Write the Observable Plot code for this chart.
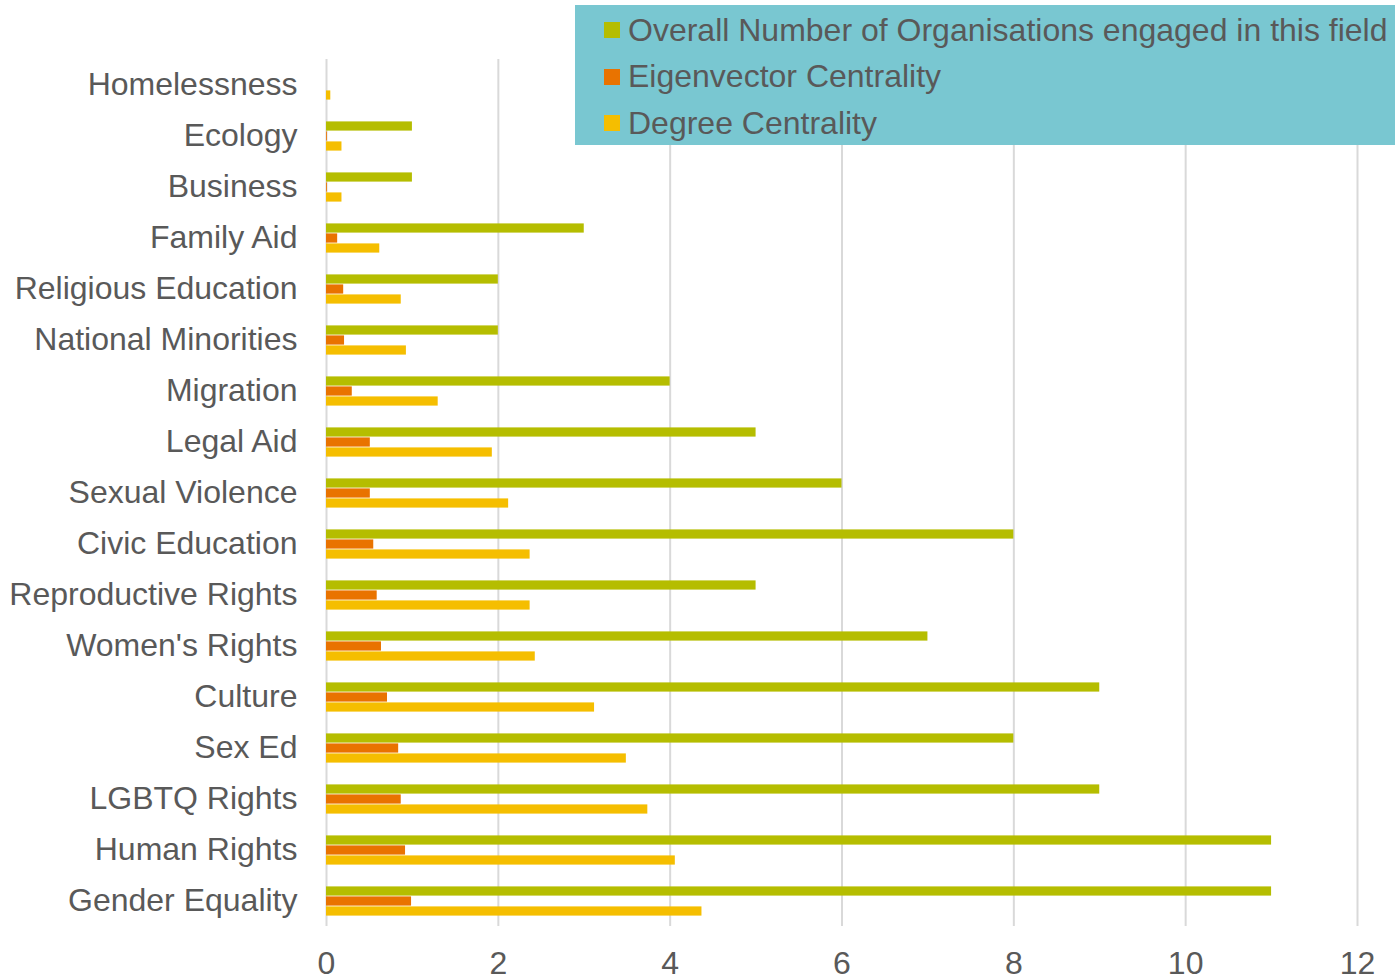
<!DOCTYPE html>
<html>
<head>
<meta charset="utf-8">
<script src="https://cdn.jsdelivr.net/npm/d3@7"></script>
<script src="https://cdn.jsdelivr.net/npm/@observablehq/plot@0.6"></script>
<style>
  html, body { margin: 0; padding: 0; background: #fff; }
  #wrap { position: relative; width: 1395px; height: 980px; font-family: "Liberation Sans", Arial, sans-serif; }
  #legend { position: absolute; left: 575px; top: 5px; width: 820px; height: 140px; background: #79c7d1; box-sizing: border-box; padding-top: 2px; padding-left: 29px; }
  .item { display: flex; align-items: center; height: 46.5px; font-size: 32px; color: #595959; white-space: nowrap; }
  .sw { width: 16px; height: 16px; margin-right: 8px; flex: none; }
  svg { position: absolute; left: 0; top: 0; }
</style>
</head>
<body>
<div id="wrap"><div id="legend"></div></div>
<script>
const categories = ["Homelessness", "Ecology", "Business", "Family Aid", "Religious Education",
  "National Minorities", "Migration", "Legal Aid", "Sexual Violence", "Civic Education",
  "Reproductive Rights", "Women's Rights", "Culture", "Sex Ed", "LGBTQ Rights",
  "Human Rights", "Gender Equality"];
const overall = [0, 1, 1, 3, 2, 2, 4, 5, 6, 8, 5, 7, 9, 8, 9, 11, 11];
const eigenvector = [0, 0.01, 0.01, 0.13, 0.2, 0.21, 0.3, 0.51, 0.51, 0.55, 0.59, 0.64, 0.71, 0.84, 0.87, 0.92, 0.99];
const degree = [0.05, 0.18, 0.18, 0.62, 0.87, 0.93, 1.3, 1.93, 2.12, 2.37, 2.37, 2.43, 3.12, 3.49, 3.74, 4.06, 4.37];
const seriesNames = ["Overall Number of Organisations engaged in this field", "Eigenvector Centrality", "Degree Centrality"];
const seriesColors = ["#b5bd00", "#e97300", "#f5be00"];
const xTicks = [0, 2, 4, 6, 8, 10, 12];

const seriesValues = [overall, eigenvector, degree];
const data = [];
categories.forEach((c, i) => {
  seriesNames.forEach((s, j) => data.push({category: c, series: s, value: seriesValues[j][i]}));
});

const chart = Plot.plot({
  width: 1395,
  height: 980,
  marginLeft: 326,
  marginRight: 38,
  marginTop: 57,
  marginBottom: 52,
  style: {fontFamily: "'Liberation Sans', Arial, sans-serif", fontSize: "32px", color: "#595959", background: "transparent"},
  x: {domain: [0, 12], ticks: xTicks, tickSize: 0, tickPadding: 25, label: null, tickFormat: d => String(d)},
  fy: {domain: categories, padding: 0, label: null, tickSize: 0, tickPadding: 29, axis: "left"},
  y: {domain: seriesNames, axis: null, paddingInner: 0, paddingOuter: 0.935},
  color: {domain: seriesNames, range: seriesColors},
  marks: [
    Plot.ruleX(xTicks, {stroke: "#d9d9d9", strokeWidth: 2}),
    Plot.barX(data, {x: "value", y: "series", fy: "category", fill: "series", insetTop: 0.4, insetBottom: 0.4})
  ]
});
document.getElementById("wrap").prepend(chart);
chart.querySelectorAll("text").forEach(t => t.setAttribute("fill", "#595959"));

const legend = document.getElementById("legend");
seriesNames.forEach((s, j) => {
  const it = document.createElement("div");
  it.className = "item";
  const sw = document.createElement("span");
  sw.className = "sw";
  sw.style.background = seriesColors[j];
  const tx = document.createElement("span");
  tx.textContent = s;
  it.append(sw, tx);
  legend.append(it);
});
</script>
</body>
</html>
